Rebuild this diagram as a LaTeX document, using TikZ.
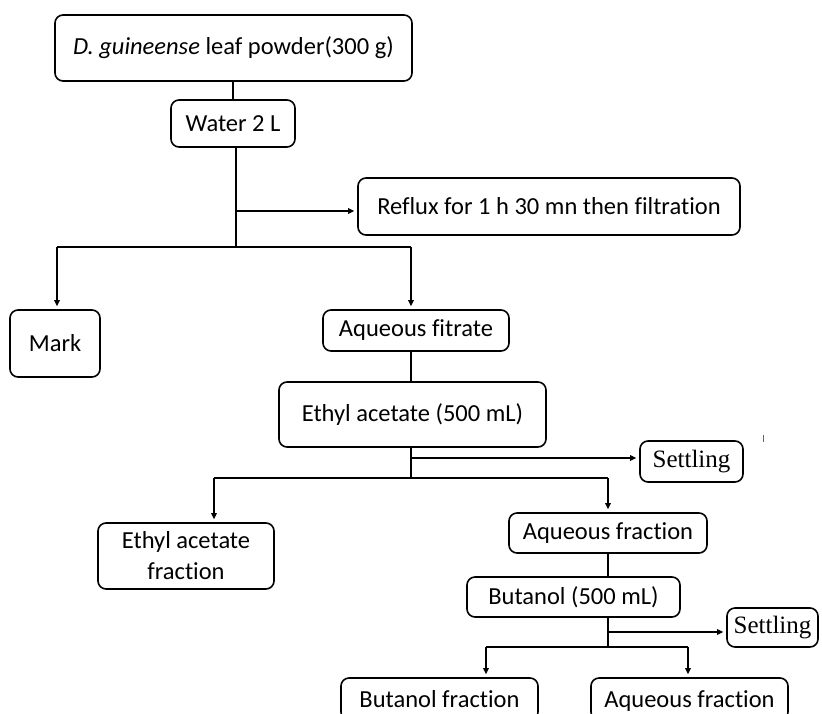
\documentclass[tikz,border=0pt]{standalone}
\usepackage{fontspec}
\setmainfont[Ligatures=NoCommon]{Carlito}
\newfontfamily\serifb{Liberation Serif}
\usetikzlibrary{arrows.meta}
\tikzset{
  box/.style={draw, line width=1.6pt, rounded corners=8pt, inner sep=0pt, align=center,
    font=\fontsize{24.5}{31}\selectfont, text=black},
  sbox/.style={box, font=\serifb\fontsize{25}{28}\selectfont},
  ln/.style={line width=1.6pt},
  arr/.style={ln, -{Triangle[length=6pt,width=5.5pt]}, shorten >=3pt},
}
\begin{document}
\begin{tikzpicture}[x=1pt,y=-1pt]
\useasboundingbox (0,0) rectangle (822,713);
\begin{scope}
\clip (0,0) rectangle (822,713);
\node[box, minimum width=357, minimum height=66] (top) at (233.5,48) {\textit{D. guineense} leaf powder(300 g)};
\node[box, minimum width=124, minimum height=47] (water) at (233,123.5) {Water 2 L};
\node[box, minimum width=382, minimum height=57] (reflux) at (549,206.5) {Reflux for 1 h 30 mn then filtration};
\node[box, minimum width=90, minimum height=67] (mark) at (55,343.5) {Mark};
\node[box, minimum width=186, minimum height=41] (fitrate) at (416,330.5) {Aqueous fitrate};
\node[box, minimum width=267, minimum height=65] (ethyl) at (412.5,414.5) {Ethyl acetate (500 mL)};
\node[sbox, minimum width=103, minimum height=41] (settle1) at (691.5,461.5) {Settling};
\node[box, minimum width=176, minimum height=66] (eaf) at (186,556) {Ethyl acetate\\fraction};
\node[box, minimum width=198, minimum height=40] (aqf) at (608,533) {Aqueous fraction};
\node[box, minimum width=213, minimum height=40] (but) at (573.5,597) {Butanol (500 mL)};
\node[sbox, minimum width=91, minimum height=39] (settle2) at (772.5,627.5) {Settling};
\node[box, minimum width=197, minimum height=42, text depth=0pt] (butf) at (439.5,699) {Butanol fraction};
\node[box, minimum width=197, minimum height=42, text depth=0pt] (aqf2) at (689.5,699) {Aqueous fraction};

% junction coordinates
\coordinate (j1) at (236,247);
\coordinate (b1) at (236,211);
\coordinate (l1) at (57,247);
\coordinate (r1) at (411,247);
\coordinate (j2) at (411,478);
\coordinate (b2) at (411,458);
\coordinate (l2) at (214,478);
\coordinate (r2) at (608,478);
\coordinate (j3) at (608,647);
\coordinate (b3) at (608,632);
\coordinate (l3) at (486,647);
\coordinate (r3) at (688,647);
\coordinate (t1) at (763,435);
\coordinate (t2) at (763,442);

\draw[ln] (top.south -| water.north) -- (water.north);
\draw[ln] (water.south -| j1) -- (j1);
\draw[arr] (b1) -- (b1 -| reflux.west);
\draw[ln] (l1) -- (r1);
\draw[arr] (l1) -- (l1 |- mark.north);
\draw[arr] (r1) -- (r1 |- fitrate.north);
\draw[ln] (fitrate.south -| r1) -- (ethyl.north -| r1);
\draw[ln] (ethyl.south -| j2) -- (j2);
\draw[arr] (b2) -- (b2 -| settle1.west);
\draw[ln] (l2) -- (r2);
\draw[arr] (l2) -- (l2 |- eaf.north);
\draw[arr] (r2) -- (r2 |- aqf.north);
\draw[ln] (aqf.south -| r2) -- (but.north -| r2);
\draw[ln] (but.south -| j3) -- (j3);
\draw[arr] (b3) -- (b3 -| settle2.west);
\draw[ln] (l3) -- (r3);
\draw[arr] (l3) -- (l3 |- butf.north);
\draw[arr] (r3) -- (r3 |- aqf2.north);
\draw[line width=0.6pt, black!60] (t1) -- (t2);
\end{scope}
\end{tikzpicture}
\end{document}
